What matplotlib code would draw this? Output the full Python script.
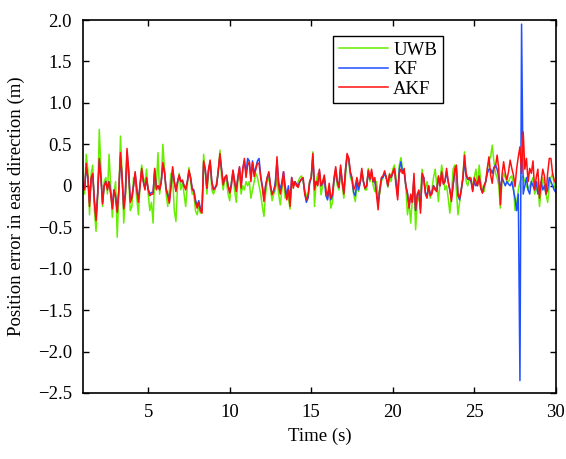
# Position error in east direction: UWB vs KF vs AKF
import matplotlib
matplotlib.use('Agg')
import matplotlib.pyplot as plt
import numpy as np

# sample times (s), 0.1 s step
t = np.round(np.arange(1.0, 30.05, 0.1), 1)

# UWB raw error (m)
uwb = [
    # 1.0 - 5.9
    0.05, -0.1, 0.38, 0.2, -0.35, 0.15, 0.25, -0.3, -0.55, -0.15,
    0.68, 0.2, -0.25, 0.05, 0.1, -0.1, 0.38, 0.0, -0.38, -0.1,
    0.05, -0.62, -0.1, 0.6, 0.15, -0.45, -0.15, 0.3, 0.1, -0.3,
    -0.25, 0.1, 0.05, -0.15, -0.35, 0.0, 0.25, 0.1, 0.02, 0.2,
    -0.1, -0.3, -0.2, -0.45, 0.15, 0.0, 0.4, -0.1, 0.05, 0.5,
    # 6.0 - 10.6
    0.2, -0.1, -0.25, -0.05, 0.15, 0.1, -0.3, -0.43, 0.0, 0.15,
    -0.05, 0.05, -0.1, -0.25, 0.0, 0.22, 0.05, -0.1, -0.1, -0.3,
    -0.35, -0.25, -0.33, -0.3, 0.38, 0.15, -0.1, 0.15, 0.3, -0.05,
    -0.1, -0.05, 0.05, 0.15, 0.43, 0.1, -0.05, 0.1, 0.05, -0.1,
    -0.18, 0.05, 0.15, -0.05, -0.2, 0.05, 0.15,
    # 10.7 - 15.4
    -0.1, 0.0, -0.05, 0.05, 0.0, 0.05, -0.15, -0.05, 0.05, 0.15,
    0.1, 0.0, -0.1, -0.25, -0.37, -0.1, 0.05, 0.1, -0.05, -0.18,
    -0.1, -0.05, 0.1, -0.1, -0.23, -0.05, 0.1, -0.15, -0.1, -0.15,
    -0.28, 0.0, 0.05, 0.05, 0.0, 0.05, 0.1, 0.12, 0.05, -0.05,
    -0.12, -0.15, 0.05, 0.1, 0.41, -0.25, 0.05, 0.15,
    # 15.5 - 20.1
    0.15, -0.11, 0.0, 0.1, -0.05, -0.15, -0.05, -0.27, -0.2, 0.05,
    0.15, 0.0, -0.05, 0.2, 0.0, -0.15, 0.1, 0.35, 0.3, 0.1,
    0.05, -0.1, -0.19, 0.0, -0.07, 0.05, 0.15, 0.05, -0.05, -0.05,
    0.21, 0.05, 0.15, 0.0, -0.07, 0.05, -0.1, -0.1, 0.05, 0.1,
    0.15, 0.1, -0.02, 0.15, 0.05, 0.2, 0.25,
    # 20.2 - 24.9
    0.1, -0.1, 0.25, 0.34, 0.2, 0.15, 0.0, -0.35, -0.2, -0.45,
    -0.15, 0.05, -0.53, -0.2, -0.15, -0.1, 0.2, 0.05, -0.05, 0.05,
    -0.05, -0.15, -0.05, 0.1, 0.2, 0.0, -0.19, 0.05, 0.25, 0.1,
    -0.05, 0.0, -0.15, -0.33, -0.1, 0.2, 0.25, -0.05, -0.35, -0.2,
    -0.05, 0.1, 0.41, 0.05, 0.0, 0.1, 0.1, -0.05,
    # 25.0 - 30.0
    0.1, 0.2, 0.0, 0.25, 0.05, -0.05, -0.07, 0.05, 0.2, 0.3,
    0.35, 0.49, 0.3, 0.15, 0.1, 0.0, -0.27, 0.05, 0.15, 0.1,
    0.05, 0.05, 0.1, 0.12, 0.0, -0.3, -0.2, -0.05, 0.05, 0.1,
    0.12, 0.05, 0.0, -0.05, 0.0, 0.05, 0.1, -0.1, -0.05, 0.05,
    -0.25, -0.05, 0.1, 0.0, -0.1, -0.2, 0.0, 0.1, 0.15, 0.0, -0.05,
]

# KF estimate error (m)
kf = [
    # 1.0 - 5.9
    0.0, -0.03, 0.22, 0.1, -0.2, 0.08, 0.13, -0.17, -0.38, -0.1,
    0.3, 0.1, -0.2, 0.0, 0.05, -0.03, 0.05, -0.08, -0.25, -0.05,
    -0.12, -0.3, -0.05, 0.35, 0.1, -0.26, -0.08, 0.4, 0.18, -0.17,
    -0.13, 0.0, 0.15, -0.03, -0.17, 0.0, 0.18, 0.05, -0.03, 0.08,
    -0.04, -0.1, -0.08, -0.08, 0.19, -0.03, 0.0, -0.04, 0.05, 0.25,
    # 6.0 - 10.6
    0.16, -0.03, -0.1, -0.18, 0.0, 0.2, 0.05, -0.05, 0.05, 0.12,
    0.05, 0.06, 0.0, -0.03, 0.05, 0.17, 0.1, -0.03, -0.05, -0.17,
    -0.24, -0.18, -0.27, -0.3, 0.27, 0.2, -0.03, 0.19, 0.28, 0.05,
    -0.04, -0.02, 0.01, 0.18, 0.36, 0.2, 0.03, 0.1, 0.12, 0.0,
    -0.07, 0.02, 0.18, 0.05, -0.05, 0.1, 0.22,
    # 10.7 - 15.4
    0.0, 0.2, 0.3, 0.15, 0.33, 0.3, 0.1, 0.3, 0.15, 0.22,
    0.3, 0.33, 0.12, 0.0, -0.15, 0.0, 0.1, 0.15, 0.0, -0.1,
    -0.07, 0.05, 0.3, 0.05, -0.05, 0.05, 0.17, 0.0, -0.12, 0.0,
    -0.2, 0.1, 0.0, 0.05, 0.02, 0.0, 0.05, 0.08, 0.08, -0.08,
    -0.2, -0.15, 0.03, 0.1, 0.35, 0.0, 0.05, 0.02,
    # 15.5 - 20.1
    0.18, 0.0, 0.03, 0.1, -0.12, -0.17, -0.02, -0.17, -0.12, 0.08,
    0.2, 0.05, -0.02, 0.22, 0.05, -0.08, 0.18, 0.37, 0.33, 0.15,
    0.08, -0.08, -0.12, 0.05, -0.05, 0.03, 0.18, 0.05, -0.03, 0.0,
    0.17, 0.08, 0.17, 0.05, 0.05, -0.08, -0.22, -0.05, 0.08, 0.1,
    0.15, 0.1, 0.0, 0.12, 0.1, 0.15, 0.2,
    # 20.2 - 24.9
    0.05, -0.12, 0.2, 0.29, 0.15, 0.17, 0.0, -0.08, -0.24, -0.12,
    -0.2, 0.1, -0.3, -0.12, -0.07, -0.28, 0.12, 0.1, -0.08, -0.12,
    0.0, -0.1, -0.08, 0.0, -0.03, -0.05, 0.1, 0.0, 0.15, 0.03,
    0.05, 0.17, 0.05, -0.05, -0.15, 0.0, 0.17, 0.22, -0.12, -0.17,
    -0.05, 0.08, 0.3, 0.12, 0.08, 0.08, 0.05, -0.05,
    # 25.0 - 30.0
    0.05, 0.0, 0.02, 0.1, -0.03, -0.08, 0.0, 0.05, 0.15, 0.2,
    0.2, 0.15, 0.22, 0.25, 0.2, 0.1, -0.05, 0.1, 0.05, 0.0,
    0.05, 0.02, 0.0, 0.05, -0.05, -0.15, -0.3, -0.1, -2.35, 1.95,
    -0.1, 0.0, 0.1, -0.05, -0.1, 0.05, 0.0, -0.05, 0.05, -0.1,
    -0.05, 0.05, -0.05, 0.0, -0.1, -0.05, 0.1, 0.05, 0.0, -0.05, -0.08,
]

# AKF estimate error (m)
akf = [
    # 1.0 - 5.9
    0.0, -0.05, 0.27, 0.1, -0.25, 0.1, 0.15, -0.2, -0.42, -0.1,
    0.33, 0.1, -0.22, 0.0, 0.05, -0.05, 0.05, -0.1, -0.28, -0.05,
    -0.15, -0.32, -0.05, 0.4, 0.1, -0.28, -0.1, 0.45, 0.2, -0.2,
    -0.15, 0.0, 0.17, -0.05, -0.2, 0.0, 0.21, 0.05, -0.05, 0.1,
    -0.05, -0.12, -0.1, -0.1, 0.21, -0.05, 0.0, -0.05, 0.05, 0.28,
    # 6.0 - 10.6
    0.17, -0.05, -0.12, -0.21, 0.0, 0.23, 0.05, -0.07, 0.05, 0.13,
    0.05, 0.07, 0.0, -0.05, 0.05, 0.19, 0.1, -0.05, -0.07, -0.2,
    -0.27, -0.2, -0.3, -0.33, 0.3, 0.2, -0.03, 0.2, 0.31, 0.05,
    -0.05, -0.03, 0.01, 0.2, 0.39, 0.2, 0.01, 0.1, 0.13, 0.0,
    -0.09, 0.0, 0.19, 0.05, -0.07, 0.1, 0.23,
    # 10.7 - 15.4
    -0.03, 0.2, 0.33, 0.1, 0.25, 0.29, 0.05, 0.28, 0.11, 0.2,
    0.27, 0.27, 0.1, -0.02, -0.19, 0.0, 0.1, 0.17, 0.0, -0.11,
    -0.05, 0.0, 0.35, 0.0, -0.1, 0.0, 0.17, -0.05, -0.17, -0.05,
    -0.25, 0.1, -0.03, 0.05, 0.0, -0.02, 0.05, 0.08, 0.1, -0.1,
    -0.17, -0.12, 0.05, 0.1, 0.39, -0.05, 0.05, 0.0,
    # 15.5 - 20.1
    0.2, 0.0, 0.05, 0.13, -0.05, -0.13, 0.03, -0.15, -0.1, 0.1,
    0.23, 0.05, -0.02, 0.25, 0.05, -0.1, 0.2, 0.39, 0.33, 0.17,
    0.1, -0.05, 0.0, 0.1, 0.0, 0.05, 0.21, 0.05, -0.03, 0.0,
    0.19, 0.08, 0.2, 0.05, 0.1, -0.1, -0.29, -0.05, 0.1, 0.12,
    0.18, 0.1, 0.0, 0.14, 0.1, 0.17, 0.21,
    # 20.2 - 24.9
    0.0, -0.17, 0.15, 0.2, 0.15, 0.21, 0.0, -0.1, -0.27, -0.1,
    -0.2, 0.15, -0.29, -0.1, -0.05, -0.33, 0.15, 0.1, -0.1, -0.15,
    0.0, -0.12, -0.1, 0.0, -0.05, -0.07, 0.12, 0.0, 0.17, 0.02,
    0.05, 0.21, 0.05, -0.05, -0.19, 0.0, 0.2, 0.25, -0.1, -0.15,
    -0.05, 0.1, 0.37, 0.15, 0.08, 0.1, 0.08, -0.07,
    # 25.0 - 30.0
    0.1, 0.05, 0.0, 0.12, -0.03, -0.09, 0.0, 0.05, 0.21, 0.35,
    0.13, 0.03, 0.21, 0.23, 0.37, 0.21, -0.23, 0.13, 0.29, 0.15,
    0.07, 0.17, 0.31, 0.21, 0.13, -0.01, 0.21, 0.35, 0.47, 0.15,
    0.65, 0.2, 0.33, 0.05, 0.21, 0.15, 0.3, -0.05, 0.1, 0.2,
    -0.15, 0.05, 0.2, 0.12, -0.1, 0.15, 0.33, 0.33, 0.15, 0.07, 0.03,
]

x_ticks = [5, 10, 15, 20, 25, 30]
y_ticks = [-2.5, -2.0, -1.5, -1.0, -0.5, 0, 0.5, 1.0, 1.5, 2.0]
y_labels = ['\u22122.5', '\u22122.0', '\u22121.5', '\u22121.0', '\u22120.5',
            '0', '0.5', '1.0', '1.5', '2.0']

plt.rcParams['font.family'] = ['Liberation Serif', 'DejaVu Serif']

fig = plt.figure(figsize=(5.66, 4.59), dpi=100)
ax = fig.add_axes([0.1466, 0.1438, 0.8354, 0.8126])

ax.plot(t, uwb, color='#66ee00', linewidth=1.1, label='UWB')
ax.plot(t, kf, color='#1f4fff', linewidth=1.1, label='KF')
ax.plot(t, akf, color='#ff1010', linewidth=1.1, label='AKF')

ax.set_xlim(1, 30)
ax.set_ylim(-2.5, 2.0)
ax.set_xticks(x_ticks)
ax.set_yticks(y_ticks)
ax.set_yticklabels(y_labels)
ax.tick_params(direction='in', top=True, right=True, labelsize=13.5,
               length=4, width=1, pad=8)
for sp in ax.spines.values():
    sp.set_linewidth(1.2)

ax.set_xlabel('Time (s)', fontsize=13.5, labelpad=5)
ax.set_ylabel('Position error in east direction (m)', fontsize=13.5, labelpad=9)

leg = ax.legend(loc='upper right', bbox_to_anchor=(0.761, 0.957), fontsize=13.5,
                fancybox=False, edgecolor='black', framealpha=1,
                handlelength=2.6, borderpad=0.3, labelspacing=0.12,
                handletextpad=0.3, borderaxespad=0)
leg.get_frame().set_linewidth(1.0)

fig.savefig('out.png', dpi=100)
